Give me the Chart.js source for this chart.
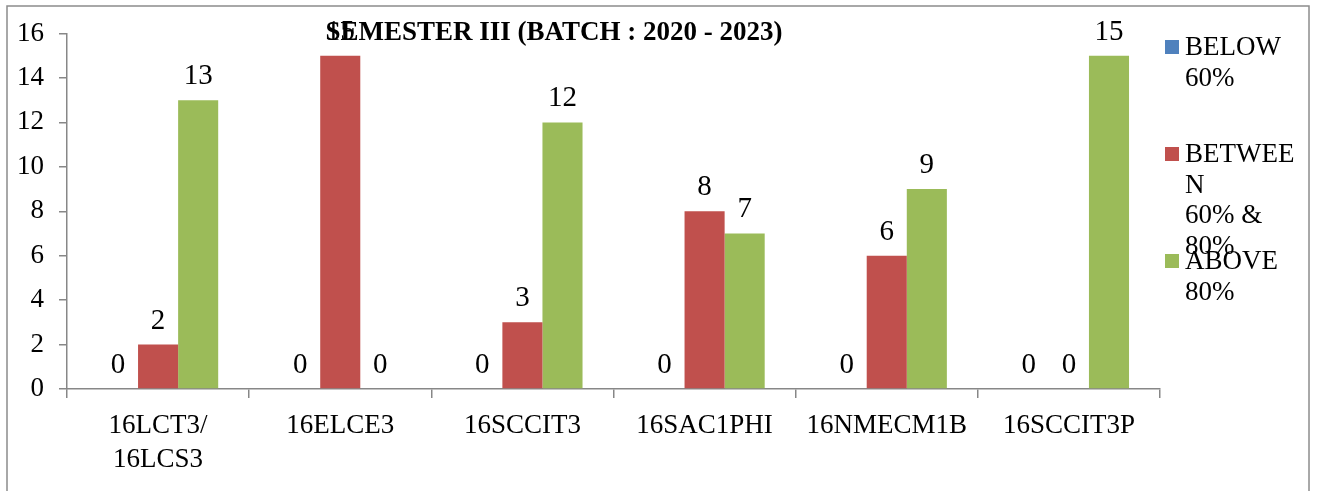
<!DOCTYPE html>
<html lang="en">
<head>
<meta charset="UTF-8">
<title>Semester III</title>
<script src="https://cdn.jsdelivr.net/npm/chart.js"></script>
<style>
body { margin: 0; padding: 0; background: #fff; }
#wrap { width: 1322px; height: 491px; position: relative; }
</style>
</head>
<body>
<div id="wrap"><canvas id="semChart" width="1322" height="491"></canvas></div>
<script>
// data
const categories = [['16LCT3/', '16LCS3'], '16ELCE3', '16SCCIT3', '16SAC1PHI', '16NMECM1B', '16SCCIT3P'];
const below60 = [0, 0, 0, 0, 0, 0];
const between60and80 = [2, 15, 3, 8, 6, 0];
const above80 = [13, 0, 12, 7, 9, 15];
const yTicks = [0, 2, 4, 6, 8, 10, 12, 14, 16];
const seriesNames = ['BELOW 60%', 'BETWEEN 60% & 80%', 'ABOVE 80%'];
const legendLines = [['BELOW', '60%'], ['BETWEE', 'N', '60% &', '80%'], ['ABOVE', '80%']];
const titleText = 'SEMESTER III (BATCH : 2020 - 2023)';

const serif = "'Liberation Serif', 'Times New Roman', serif";
const axisGray = '#878787';

// border, title, value labels, legend
const decor = {
  id: 'decor',
  beforeDraw(chart) {
    const c = chart.ctx;
    c.save();
    c.strokeStyle = '#8c8c8c';
    c.lineWidth = 1.5;
    c.strokeRect(7, 6, 1302, 500);
    c.restore();
  },
  afterDatasetsDraw(chart) {
    const c = chart.ctx;
    c.save();
    c.font = '29px ' + serif;
    c.fillStyle = '#000';
    c.textAlign = 'center';
    c.textBaseline = 'alphabetic';
    chart.data.datasets.forEach((ds, i) => {
      chart.getDatasetMeta(i).data.forEach((bar, j) => {
        c.fillText(String(ds.data[j]), bar.x, bar.y - 16);
      });
    });
    c.restore();
  },
  afterDraw(chart) {
    const c = chart.ctx;
    c.save();
    // title
    c.font = 'bold 27px ' + serif;
    c.fillStyle = '#000';
    c.textAlign = 'center';
    c.textBaseline = 'middle';
    c.fillText(titleText, 554, 33);
    // legend
    c.font = '27px ' + serif;
    c.textAlign = 'left';
    c.textBaseline = 'alphabetic';
    chart.data.datasets.forEach((ds, i) => {
      const top = 40 + i * 107;
      c.fillStyle = ds.backgroundColor;
      c.fillRect(1165, top, 14, 14);
      c.fillStyle = '#000';
      legendLines[i].forEach((ln, k) => {
        c.fillText(ln, 1185, top + 15 + k * 30.5);
      });
    });
    c.restore();
  }
};

new Chart(document.getElementById('semChart'), {
  type: 'bar',
  data: {
    labels: categories,
    datasets: [
      { label: seriesNames[0], data: below60, backgroundColor: '#4F81BD' },
      { label: seriesNames[1], data: between60and80, backgroundColor: '#C0504D' },
      { label: seriesNames[2], data: above80, backgroundColor: '#9BBB59' }
    ]
  },
  options: {
    responsive: false,
    animation: false,
    events: [],
    layout: { padding: { left: 0, top: 33.5, right: 162, bottom: 0 } },
    datasets: { bar: { barPercentage: 1, categoryPercentage: 0.66 } },
    plugins: { legend: { display: false }, title: { display: false }, tooltip: { enabled: false } },
    scales: {
      x: {
        offset: true,
        grid: { offset: true, drawOnChartArea: false, color: axisGray, tickLength: 9, lineWidth: 1.5 },
        border: { color: axisGray, width: 1.5 },
        ticks: { color: '#000', font: { family: serif, size: 27, lineHeight: 1.25 }, padding: 11, maxRotation: 0, autoSkip: false },
        afterFit(s) { s.height = 102; }
      },
      y: {
        min: 0, max: 16,
        afterBuildTicks(s) { s.ticks = yTicks.map(v => ({ value: v })); },
        grid: { drawOnChartArea: false, color: axisGray, tickLength: 8, lineWidth: 1.5 },
        border: { color: axisGray, width: 1.5 },
        ticks: { color: '#000', font: { family: serif, size: 27 }, padding: 15 },
        afterFit(s) { s.width = 67; }
      }
    }
  },
  plugins: [decor]
});
</script>
</body>
</html>
